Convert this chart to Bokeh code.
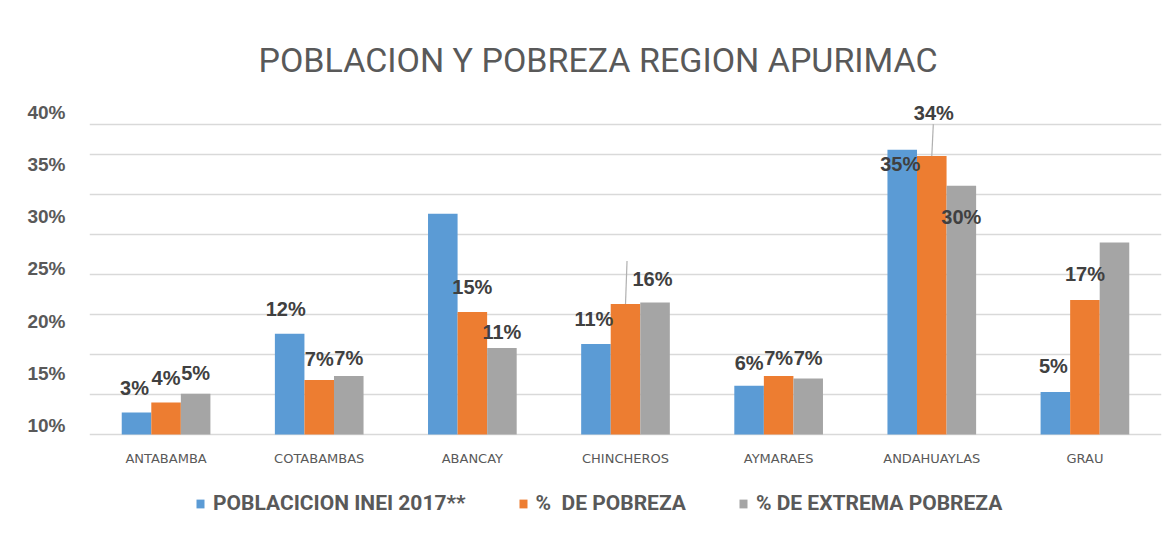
from bokeh.plotting import figure
from bokeh.models import (FactorRange, Range1d, LinearAxis, FixedTicker, NumeralTickFormatter,
                          Legend, LegendItem, ColumnDataSource, Grid)
from bokeh.transform import dodge
from bokeh.core.properties import value
from bokeh.embed import file_html
from bokeh.resources import INLINE

# ---------------- data ----------------
categories = ["ANTABAMBA", "COTABAMBAS", "ABANCAY", "CHINCHEROS", "AYMARAES", "ANDAHUAYLAS", "GRAU"]
series_names = ["POBLACICION INEI 2017**", "%  DE POBREZA", "% DE EXTREMA POBREZA"]
poblacion = [0.0275, 0.126, 0.276, 0.113, 0.061, 0.356, 0.053]
pobreza = [0.040, 0.068, 0.153, 0.163, 0.073, 0.348, 0.168]
extrema = [0.051, 0.073, 0.108, 0.165, 0.070, 0.311, 0.240]
poblacion_labels = ["3%", "12%", "", "11%", "6%", "35%", "5%"]
pobreza_labels = ["4%", "7%", "15%", "16%", "7%", "34%", "17%"]
extrema_labels = ["5%", "7%", "11%", "", "7%", "30%", ""]
y_tick_values = [0.10, 0.15, 0.20, 0.25, 0.30, 0.35, 0.40]
grid_values = [0.0, 0.05, 0.10, 0.15, 0.20, 0.25, 0.30, 0.35, 0.3875]
leader_cats = ["CHINCHEROS", "ANDAHUAYLAS"]
leader_start = [0.163, 0.348]
chart_title = "POBLACION Y POBREZA REGION APURIMAC"

# ---------------- styles / layout ----------------
W, H = 1176, 535
FL, FR, FT = 89, 15, 100
ZERO_PX = 434            # page y of the 0 line
frame_w = W - FL - FR
frame_h = H - FT
PX_PER_UNIT = 800.0
YMIN = -(H - ZERO_PX) / PX_PER_UNIT
YMAX = (ZERO_PX - FT) / PX_PER_UNIT
LAB_PX_PER_UNIT = 1044.0
LAB_10_PX = 425          # page y of the "10%" label
lab_lo = 0.10 - (H - LAB_10_PX) / LAB_PX_PER_UNIT
lab_hi = 0.10 + (LAB_10_PX - FT) / LAB_PX_PER_UNIT

colors = ["#5B9BD5", "#ED7D31", "#A5A5A5"]
BW = 0.193
offsets = [-BW, 0.0, BW]
# label offsets (pixels) relative to bar top centre
pob_dx = [-2, -4, 0, -2, 0, -2, -2]
pob_dy = [-25, -25, -25, -25, -23, 14, -26]
pbz_dx = [0, 0, 0, 27, 0, 2, 0]
pbz_dy = [-25, -21, -25, -25, -18, -43, -26]
ext_dx = [0, 0, 0, 0, 0, 0, 0]
ext_dy = [-21, -18, -16, -21, -21, 31, -21]
leader_len_px = [43, 32]

p = figure(frame_width=frame_w, frame_height=frame_h,
           x_range=FactorRange(*categories, range_padding=0),
           y_range=Range1d(YMIN, YMAX), output_backend="svg", toolbar_location=None,
           x_axis_location=None, y_axis_location=None,
           min_border_left=FL, min_border_right=FR, min_border_top=FT, min_border_bottom=0)
p.outline_line_color = None
for g in list(p.grid):
    g.visible = False
p.add_layout(Grid(dimension=1, ticker=FixedTicker(ticks=grid_values),
                  grid_line_color="#d9d9d9", grid_line_width=1.4))

p.title.text = chart_title
p.title.align = "left"
p.title.text_font = "Roboto"
p.title.text_font_size = "34px"
p.title.text_font_style = "normal"
p.title.text_color = "#595959"
p.title.standoff = 42
p.title.offset = 169

src = ColumnDataSource(dict(cat=categories, pob=poblacion, pbz=pobreza, ext=extrema,
                            pob_l=poblacion_labels, pbz_l=pobreza_labels, ext_l=extrema_labels,
                            pob_dx=pob_dx, pob_dy=pob_dy, pbz_dx=pbz_dx, pbz_dy=pbz_dy,
                            ext_dx=ext_dx, ext_dy=ext_dy))

renderers = []
for col, off, c in zip(["pob", "pbz", "ext"], offsets, colors):
    r = p.vbar(x=dodge("cat", off, range=p.x_range), top=col, width=BW, source=src,
               fill_color=c, line_color=None)
    renderers.append(r)

# leader lines
lsrc = ColumnDataSource(dict(cat=leader_cats, y0=leader_start,
                             y1=[v + l / PX_PER_UNIT for v, l in zip(leader_start, leader_len_px)]))
p.segment(x0=dodge("cat", 0.0, range=p.x_range), y0="y0",
          x1=dodge("cat", 0.01, range=p.x_range), y1="y1", source=lsrc,
          line_color="#b0b0b0", line_width=1.2)

# data labels
for col, off in zip(["pob", "pbz", "ext"], offsets):
    p.text(x=dodge("cat", off, range=p.x_range), y=col, text=col + "_l",
           x_offset=col + "_dx", y_offset=col + "_dy", source=src,
           text_align="center", text_baseline="middle",
           text_font=value("Liberation Sans"), text_font_style="bold",
           text_font_size="20px", text_color="#404040")

# category labels under the zero line
p.text(x="cat", y=0, text="cat", source=src, y_offset=24,
       text_align="center", text_baseline="middle",
       text_font=value("DejaVu Sans"), text_font_size="13px", text_color="#595959")

# y labels axis (as drawn in the reference)
p.extra_y_ranges = {"lab": Range1d(lab_lo, lab_hi)}
yax = LinearAxis(y_range_name="lab", ticker=FixedTicker(ticks=y_tick_values),
                 formatter=NumeralTickFormatter(format="0%"))
yax.axis_line_color = None
yax.major_tick_line_color = None
yax.minor_tick_line_color = None
yax.major_tick_out = 0
yax.major_tick_in = 0
yax.major_label_standoff = 24
yax.major_label_text_font = "Liberation Sans"
yax.major_label_text_font_style = "bold"
yax.major_label_text_font_size = "19px"
yax.major_label_text_color = "#595959"
p.add_layout(yax, "left")

legend = Legend(items=[LegendItem(label=n, renderers=[r]) for n, r in zip(series_names, renderers)],
                orientation="horizontal", location=(106, 20))
legend.border_line_color = None
legend.background_fill_alpha = 0
legend.margin = 0
legend.padding = 0
legend.spacing = 52
legend.label_standoff = 8
legend.glyph_width = 10
legend.glyph_height = 11
legend.label_text_font = "Roboto"
legend.label_text_font_style = "bold"
legend.label_text_font_size = "21px"
legend.label_text_color = "#595959"
p.add_layout(legend, "center")

open("out.html", "w").write(file_html(p, INLINE))
